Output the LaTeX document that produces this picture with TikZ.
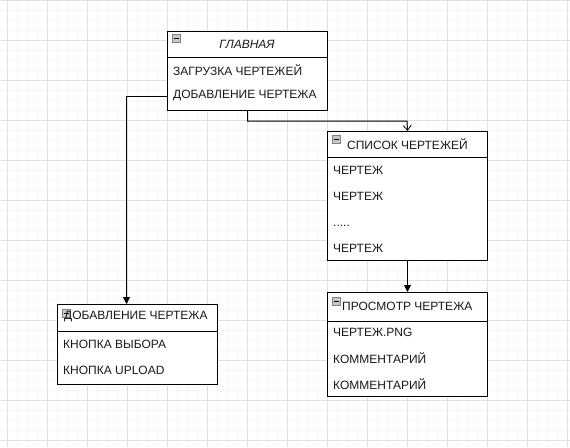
\documentclass[tikz,border=0pt]{standalone}
\usepackage{fontspec}
\setmainfont{Liberation Sans}
\usetikzlibrary{arrows.meta}
\definecolor{gminor}{HTML}{F6F6F6}
\definecolor{gmajor}{HTML}{E0E0E0}
\definecolor{icofill}{HTML}{C8C8C8}
\definecolor{icoline}{HTML}{808080}
\tikzset{
  box/.style={draw=black, line width=1pt, fill=white, anchor=north west, inner sep=0pt, minimum width=160pt},
  txt/.style={anchor=west, inner sep=0pt, font=\fontsize{12}{14}\selectfont, text=black!90},
  hdr/.style={txt},
  icon/.style={draw=icoline, fill=icofill, line width=0.6pt, anchor=north west, minimum width=8pt, minimum height=8pt, inner sep=0pt},
  conn/.style={draw=black, line width=1pt},
  filltip/.style={-{Triangle[length=7pt,width=7pt]}},
  opentip/.style={-{Straight Barb[length=5pt,width=8pt,line width=0.8pt]}},
}
\begin{document}
\begin{tikzpicture}[x=1pt,y=-1pt]
\useasboundingbox (0,0) rectangle (570,447);
\fill[white] (0,0) rectangle (570,447);
% grid
\foreach \x in {7,17,...,567} \draw[gminor, line width=0.8pt] (\x,0) -- (\x,447);
\foreach \y in {10,20,...,440} \draw[gminor, line width=0.8pt] (0,\y) -- (570,\y);
\foreach \x in {7,47,...,567} \draw[gmajor, line width=0.8pt] (\x,0) -- (\x,447);
\foreach \y in {0,40,...,440} \draw[gmajor, line width=0.8pt] (0,\y) -- (570,\y);

% ---- ГЛАВНАЯ
\node[box, minimum height=79pt] (glav) at (167,31) {};
\draw[line width=1pt] (167,57) -- (327,57);
\node[icon] (glavI) at (172,34) {};
\draw[line width=1pt] (glavI.west) ++(1.6pt,0) -- ([xshift=-1.6pt]glavI.east);
\node[txt, anchor=center, font=\fontsize{12}{14}\selectfont\itshape] (glavH) at (247,44) {ГЛАВНАЯ};
\node[txt] (glavA) at (173,70) {ЗАГРУЗКА ЧЕРТЕЖЕЙ};
\node[txt] (glavB) at (173,96) {ДОБАВЛЕНИЕ ЧЕРТЕЖА};
\coordinate (glavBl) at (167,96);

% ---- СПИСОК ЧЕРТЕЖЕЙ
\node[box, minimum height=129pt] (spis) at (327,131) {};
\draw[line width=1pt] (327,157) -- (487,157);
\node[icon] (spisI) at (332,135) {};
\draw[line width=1pt] (spisI.west) ++(1.6pt,0) -- ([xshift=-1.6pt]spisI.east);
\node[hdr] (spisH) at (347,144) {СПИСОК ЧЕРТЕЖЕЙ};
\node[txt] (spisA) at (333,170) {ЧЕРТЕЖ};
\node[txt] (spisB) at (333,196) {ЧЕРТЕЖ};
\node[txt, anchor=base west] (spisC) at (333,226) {.....};
\node[txt] (spisD) at (333,248) {ЧЕРТЕЖ};

% ---- ПРОСМОТР ЧЕРТЕЖА
\node[box, minimum height=104pt] (pros) at (327,292) {};
\draw[line width=1pt] (327,321) -- (487,321);
\node[icon] (prosI) at (332,297) {};
\draw[line width=1pt] (prosI.west) ++(1.6pt,0) -- ([xshift=-1.6pt]prosI.east);
\node[hdr] (prosH) at (342,306) {ПРОСМОТР ЧЕРТЕЖА};
\node[txt] (prosA) at (333,332) {ЧЕРТЕЖ.PNG};
\node[txt] (prosB) at (333,358) {КОММЕНТАРИЙ};
\node[txt] (prosC) at (333,384) {КОММЕНТАРИЙ};

% ---- ДОБАВЛЕНИЕ ЧЕРТЕЖА
\node[box, minimum height=80pt] (dob) at (57,304) {};
\draw[line width=1pt] (57,331) -- (217,331);
\node[icon] (dobI) at (62,309) {};
\draw[line width=1pt] (dobI.west) ++(1.6pt,0) -- ([xshift=-1.6pt]dobI.east);
\node[hdr] (dobH) at (64,317) {ДОБАВЛЕНИЕ ЧЕРТЕЖА};
\node[txt] (dobA) at (63,344) {КНОПКА ВЫБОРА};
\node[txt] (dobB) at (63,370) {КНОПКА UPLOAD};

% ---- connectors
\draw[conn, opentip] (glav.south) |- (407,121) -- (spis.north);
\draw[conn, filltip] (glavBl) -| ([xshift=-11pt]dob.north);
\draw[conn, filltip] (spis.south) -- (pros.north);
\end{tikzpicture}
\end{document}
